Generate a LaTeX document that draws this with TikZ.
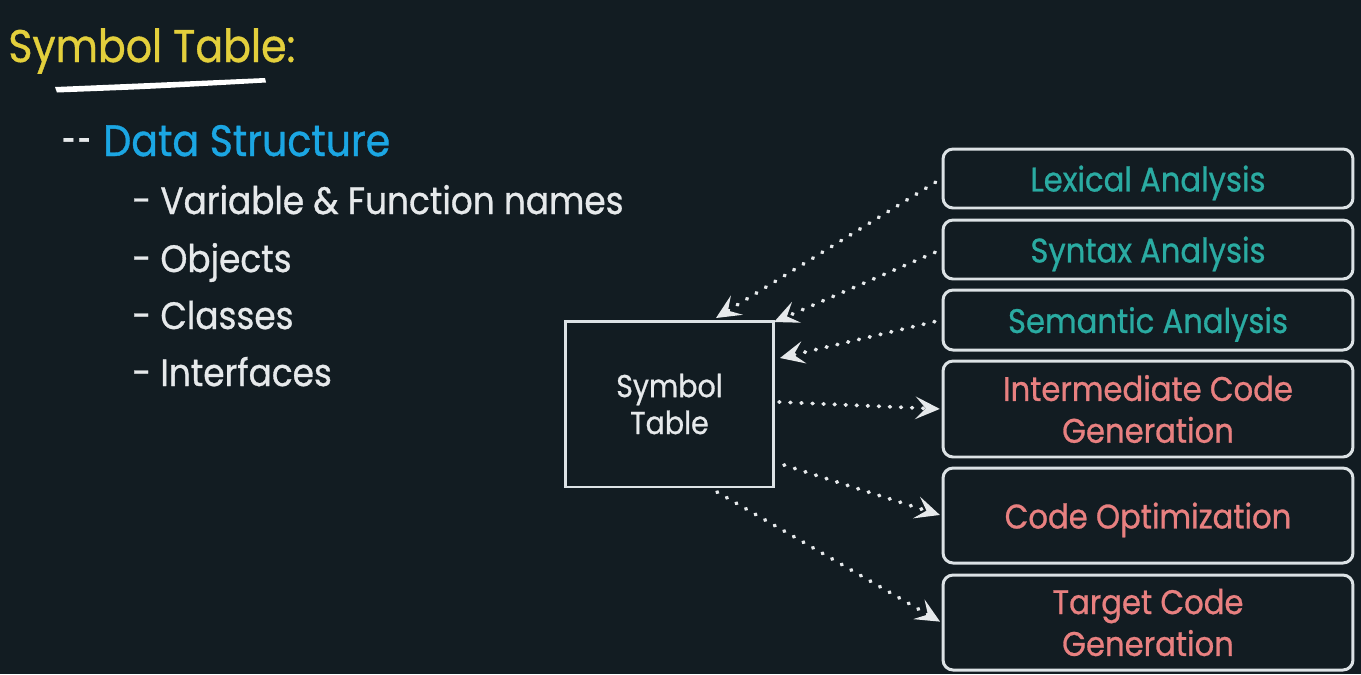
\documentclass[tikz,border=0pt]{standalone}
\usepackage{fontspec}
\setmainfont{Poppins}[FakeStretch=0.9, FakeBold=0.8]
\usetikzlibrary{arrows.meta}
\definecolor{bg}{HTML}{121C22}
\definecolor{ttl}{HTML}{E3CF3C}
\definecolor{blu}{HTML}{1BA6E3}
\definecolor{teal2}{HTML}{2AABA2}
\definecolor{pink2}{HTML}{E88080}
\definecolor{wt}{HTML}{E6E9EB}
\definecolor{edge}{HTML}{DCE2E5}
\tikzset{
  stage/.style={draw=edge, line width=1.7pt, rounded corners=0.2cm, minimum width=8.2cm, align=center, font=\fontsize{19.4}{23.8}\selectfont},
  early/.style={stage, text=teal2, text depth=0pt},
  late/.style={stage, text=pink2},
  symbox/.style={draw=edge, line width=1.7pt, minimum width=4.18cm, minimum height=3.32cm, align=center, text=wt, font=\fontsize{18}{21}\selectfont},
  flow/.style={draw=wt, line width=2.2pt, line cap=round, dash pattern=on 0.4pt off 5.9pt, -{Stealth[length=14pt,width=13pt,inset=6pt,line cap=butt,line width=0pt]}},
  item/.style={anchor=base west, text=wt, font=\fontsize{21.7}{26}\selectfont, inner sep=0pt},
}
\begin{document}
\begin{tikzpicture}[x=0.02cm,y=-0.02cm]
\fill[bg] (0,0) rectangle (1361,674);
\useasboundingbox (0,0) rectangle (1361,674);
% title
\node[anchor=base west, inner sep=0pt, text=ttl, font=\fontsize{26}{30}\selectfont] (title) at (8,62) {Symbol Table:};
\fill[white] (55,87) .. controls (150,83) .. (265,78) -- (266,82.5) .. controls (150,89) .. (57,92.5) -- cycle;
\node[anchor=base west, inner sep=0pt, text=wt, font=\fontsize{25}{30}\selectfont] (dash) at (62,156) {\scalebox{0.6}[1]{-}\kern1.5pt\scalebox{0.6}[1]{-}};
\node[anchor=base west, inner sep=0pt, text=blu, font=\fontsize{25}{30}\selectfont] (ds) at (103,156) {Data Structure};
\node[item] (i1) at (132,214) {- Variable \& Function names};
\node[item] (i2) at (132,272) {- Objects};
\node[item] (i3) at (132,329) {- Classes};
\node[item] (i4) at (132,386) {- Interfaces};
% symbol table
\node[symbox] (sym) at (669.5,404) {Symbol\\Table};
% stages
\node[early, minimum height=1.18cm] (lex) at (1148,178.5) {Lexical Analysis};
\node[early, minimum height=1.18cm] (syn) at (1148,249.5) {Syntax Analysis};
\node[early, minimum height=1.2cm] (sem) at (1148,320) {Semantic Analysis};
\node[late, minimum height=1.92cm] (int) at (1148,409) {Intermediate Code\\Generation};
\node[late, minimum height=1.9cm, text depth=0pt] (opt) at (1148,515.5) {Code Optimization};
\node[late, minimum height=1.9cm] (tgt) at (1148,622.5) {Target Code\\Generation};
% connector ends
\coordinate (t1) at (716,318);
\coordinate (t2) at (774,322);
\coordinate (t3) at (780,358);
\coordinate (s4) at (779,402);
\coordinate (s5) at (784,465);
\coordinate (s6) at (717,492);
\draw[flow, shorten <=4pt] (lex.west) -- (t1);
\draw[flow, shorten <=4pt] (syn.west) -- (t2);
\draw[flow, shorten <=4pt] (sem.west) -- (t3);
\draw[flow, shorten >=1pt] (s4) -- (int.west);
\draw[flow, shorten >=1pt] (s5) -- (opt.west);
\draw[flow, shorten >=1pt] (s6) -- (tgt.west);
\end{tikzpicture}
\end{document}
